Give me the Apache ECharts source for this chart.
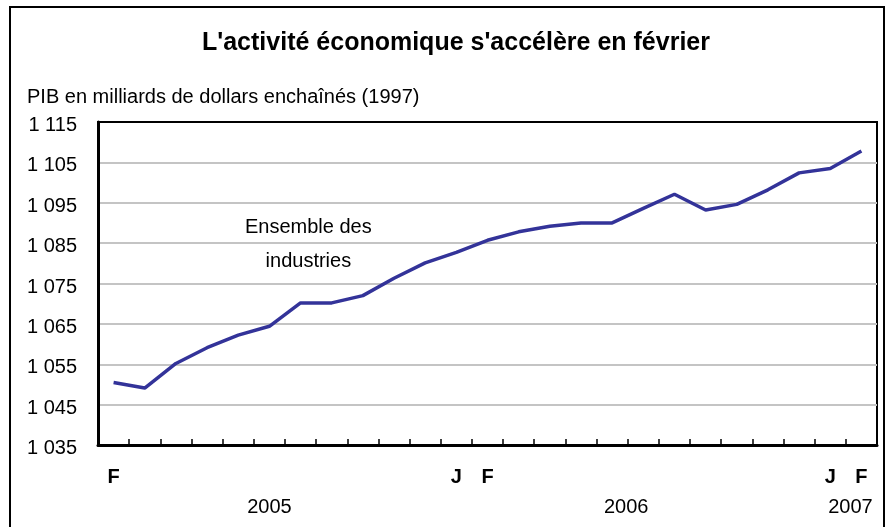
<!DOCTYPE html>
<html>
<head>
<meta charset="utf-8">
<script src="https://cdn.jsdelivr.net/npm/echarts@6/dist/echarts.min.js"></script>
<style>
html,body{margin:0;padding:0;background:#fff;}
#c{width:886px;height:527px;}
</style>
</head>
<body>
<div id="c"></div>
<script>
// Data
var categories = ['2005-02','2005-03','2005-04','2005-05','2005-06','2005-07','2005-08','2005-09','2005-10','2005-11','2005-12',
  '2006-01','2006-02','2006-03','2006-04','2006-05','2006-06','2006-07','2006-08','2006-09','2006-10','2006-11','2006-12',
  '2007-01','2007-02'];
var pib = [1050.5, 1049.1, 1055.2, 1059.1, 1062.2, 1064.4, 1070.2, 1070.2, 1072.0, 1076.3, 1080.1,
  1082.7, 1085.7, 1087.8, 1089.2, 1090.0, 1090.0, 1093.6, 1097.1, 1093.2, 1094.6, 1098.2, 1102.4,
  1103.5, 1107.8];
var monthLabels = ['F','','','','','','','','','','','J','F','','','','','','','','','','','J','F'];
var yearLabels = ['','','','','','2005','','','','','','','','','','','2006','','','','','','','','2007'];
var yMin = 1035, yMax = 1115, yStep = 10;
var titleText = "L'activité économique s'accélère en février";
var yName = 'PIB en milliards de dollars enchaînés (1997)';
var seriesName = 'Ensemble des\nindustries';

function fmtNum(v){
  var th = Math.floor(v/1000), r = String(Math.round(v%1000));
  while (r.length < 3) r = '0' + r;
  return th + ' ' + r;
}

// split line colours: gray on labelled ticks, hidden on half steps, black on top border
var nHalf = Math.round((yMax - yMin) / (yStep/2));
var splitColors = [];
for (var i = 0; i <= nHalf; i++) {
  if (i === nHalf) splitColors.push('#000');
  else if (i % 2 === 0) splitColors.push('#c4c4c4');
  else splitColors.push('rgba(0,0,0,0)');
}

var chart = echarts.init(document.getElementById('c'), null, {renderer:'canvas'});
var FONT = 'Liberation Sans, Arial, sans-serif';
chart.setOption({
  animation: false,
  backgroundColor: '#fff',
  textStyle: {fontFamily: FONT},
  title: [
    {text: titleText, left: 197, top: 26, textStyle: {fontFamily: FONT, fontSize: 25, fontWeight: 'bold', color: '#000'}},
    {text: yName, left: 22, top: 82, textStyle: {fontFamily: FONT, fontSize: 20, fontWeight: 'normal', color: '#000'}}
  ],
  graphic: [
    {type: 'rect', shape: {x: 10, y: 7, width: 874, height: 540}, style: {fill: 'none', stroke: '#000', lineWidth: 2}, silent: true},
    {type: 'text', left: 245, top: 210, style: {text: seriesName, fontFamily: FONT, fontSize: 20, lineHeight: 34, fill: '#000', textAlign: 'center'}}
  ],
  grid: {left: 98, top: 122, right: 9, bottom: 82, show: true, borderColor: '#000', borderWidth: 2, backgroundColor: 'transparent'},
  xAxis: [
    {
      type: 'category', data: categories, boundaryGap: true,
      axisLine: {show: true, lineStyle: {color: '#000', width: 3}},
      axisTick: {show: true, inside: true, length: 6, lineStyle: {color: '#000', width: 1.5}},
      axisLabel: {interval: 0, margin: 22, fontFamily: FONT, fontSize: 20, fontWeight: 'bold', color: '#000',
        formatter: function(v, i){ return monthLabels[i]; }},
      splitLine: {show: false}
    },
    {
      type: 'category', data: categories, boundaryGap: true, position: 'bottom',
      axisLine: {show: false}, axisTick: {show: false}, splitLine: {show: false},
      axisLabel: {interval: 0, margin: 52, fontFamily: FONT, fontSize: 20, color: '#000',
        formatter: function(v, i){
          var y = yearLabels[i];
          if (!y) return '';
          if (y === '2006') return '{r|' + y + '}';
          if (y === '2007') return '{l|' + y + '}';
          return y;
        },
        rich: {
          r: {fontFamily: FONT, fontSize: 20, color: '#000', padding: [0,0,0,28]},
          l: {fontFamily: FONT, fontSize: 20, color: '#000', padding: [0,22,0,0]}
        }
      }
    }
  ],
  yAxis: {
    type: 'value', min: yMin, max: yMax, interval: yStep/2,
    axisLine: {show: true, lineStyle: {color: '#000', width: 3}},
    axisTick: {show: false},
    axisLabel: {margin: 21, fontFamily: FONT, fontSize: 20, color: '#000',
      formatter: function(v){ return ((v - yMin) % yStep === 0) ? '{a|' + fmtNum(v) + '}' : ''; },
      rich: {a: {fontFamily: FONT, fontSize: 20, color: '#000', padding: [7,0,0,0]}}
    },
    splitLine: {show: true, lineStyle: {color: splitColors, width: 2}}
  },
  series: [{
    name: 'Ensemble des industries', type: 'line', data: pib, xAxisIndex: 0,
    symbol: 'none', lineStyle: {color: '#333399', width: 3.5}, itemStyle: {color: '#333399'}
  }]
});
</script>
</body>
</html>
